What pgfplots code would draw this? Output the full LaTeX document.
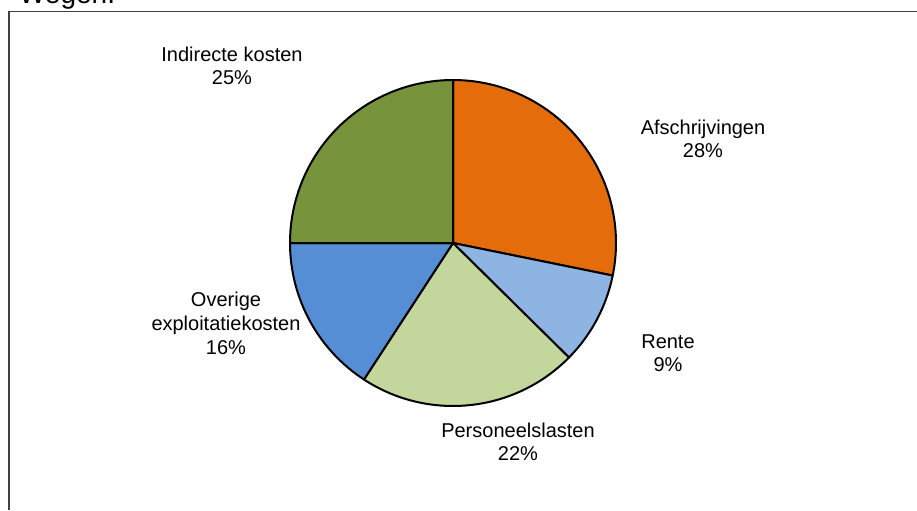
\documentclass[border=0pt]{standalone}
\usepackage{fontspec}
\setmainfont{Liberation Sans}
\usepackage{pgfplots}
\usepackage{pgfplotstable}
\pgfplotsset{compat=1.18}
\definecolor{cAfs}{HTML}{E46C0A}
\definecolor{cRen}{HTML}{8EB4E3}
\definecolor{cPer}{HTML}{C3D69B}
\definecolor{cOve}{HTML}{558ED5}
\definecolor{cInd}{HTML}{77933C}
\definecolor{framegray}{HTML}{404040}

% share of each cost item, clockwise from 12 o'clock
\pgfplotstableread{
item pct
Afschrijvingen 28.2
Rente 9.2
Personeelslasten 21.8
Overige 15.8
Indirecte 25.0
}\piedata

\newcommand\getpct[2]{\pgfplotstablegetelem{#1}{pct}\of\piedata\let#2\pgfplotsretval}

\begin{document}
\begin{tikzpicture}
\getpct{0}\pA\getpct{1}\pB\getpct{2}\pC\getpct{3}\pD\getpct{4}\pE
\pgfmathsetmacro\aA{90}
\pgfmathsetmacro\aB{\aA-3.6*\pA}
\pgfmathsetmacro\aC{\aB-3.6*\pB}
\pgfmathsetmacro\aD{\aC-3.6*\pC}
\pgfmathsetmacro\aE{\aD-3.6*\pD}
\pgfmathsetmacro\aF{\aE-3.6*\pE}
\def\R{81.5pt}
\begin{axis}[
  x=0.5pt,y=0.5pt,xmin=0,xmax=917,ymin=0,ymax=510,
  hide axis,clip=false,enlargelimits=false,
  every node/.append style={font=\fontsize{10.8}{12.5}\selectfont,inner sep=0pt}
]
\addplot[draw=none] coordinates {(0,0) (917,510)};
\pgfplotsextra{
\tikzset{wedge/.style={draw=black,line width=1pt,line join=round}}
\filldraw[wedge,fill=cAfs] (axis cs:453,267) -- ++(\aA:\R) arc[start angle=\aA,end angle=\aB,radius=\R] -- cycle;
\filldraw[wedge,fill=cRen] (axis cs:453,267) -- ++(\aB:\R) arc[start angle=\aB,end angle=\aC,radius=\R] -- cycle;
\filldraw[wedge,fill=cPer] (axis cs:453,267) -- ++(\aC:\R) arc[start angle=\aC,end angle=\aD,radius=\R] -- cycle;
\filldraw[wedge,fill=cOve] (axis cs:453,267) -- ++(\aD:\R) arc[start angle=\aD,end angle=\aE,radius=\R] -- cycle;
\filldraw[wedge,fill=cInd] (axis cs:453,267) -- ++(\aE:\R) arc[start angle=\aE,end angle=\aF,radius=\R] -- cycle;
}
% data labels
\node[anchor=base] at (axis cs:703,375) {Afschrijvingen};
\node[anchor=base] at (axis cs:703,352) {28\%};
\node[anchor=base] at (axis cs:668,162) {Rente};
\node[anchor=base] at (axis cs:668,139) {9\%};
\node[anchor=base] at (axis cs:518,72.5) {Personeelslasten};
\node[anchor=base] at (axis cs:518,49.5) {22\%};
\node[anchor=base] at (axis cs:226,204) {Overige};
\node[anchor=base] at (axis cs:226,180) {exploitatiekosten};
\node[anchor=base] at (axis cs:226,156) {16\%};
\node[anchor=base] at (axis cs:232,448) {Indirecte kosten};
\node[anchor=base] at (axis cs:232,425) {25\%};
% frame and cut-off heading
\draw[framegray,line width=0.9pt] (axis cs:9,0) -- (axis cs:9,498.5) -- (axis cs:917,498.5);
\node[anchor=base west,font=\fontsize{14}{16}\selectfont] at (axis cs:12,506) {Wegen.};
\coordinate (bbSW) at (axis cs:0,0);
\coordinate (bbNE) at (axis cs:917,510);
\end{axis}
\pgfresetboundingbox
\useasboundingbox (bbSW) rectangle (bbNE);
\end{tikzpicture}
\end{document}
